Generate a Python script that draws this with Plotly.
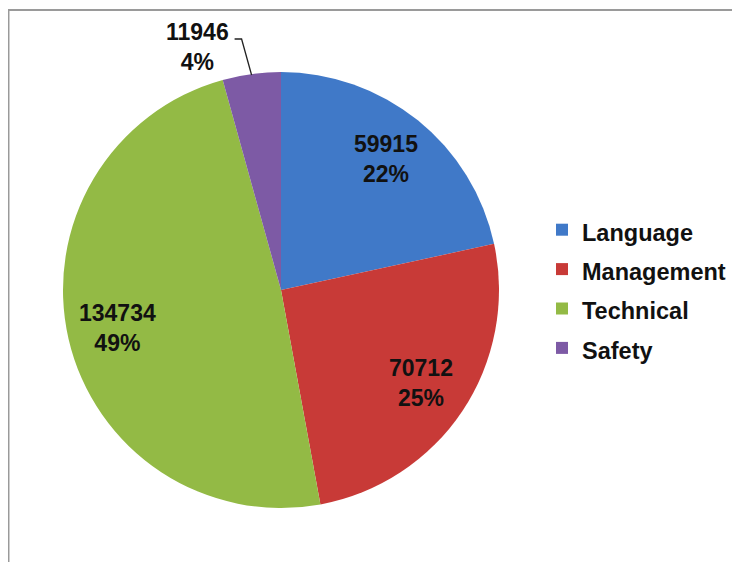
import math
import plotly.graph_objects as go

categories = ["Language", "Management", "Technical", "Safety"]
values = [59915, 70712, 134734, 11946]
colors = ["#4079c8", "#c83a37", "#93ba45", "#7d5aa5"]

W, H = 740, 562
OFF = 8  # page body margin
CX, CY, R = 281 - OFF, 290 - OFF, 218  # pie centre / radius in pixels

dom_x = [(CX - R) / W, (CX + R) / W]
dom_y = [1 - (CY + R) / H, 1 - (CY - R) / H]


def to_paper(px, py):
    return px / W, 1 - py / H


fig = go.Figure(go.Pie(
    labels=[f'<span style="font-size:23.5px"><b>{c}</b></span>' for c in categories],
    values=values,
    marker=dict(colors=colors, line=dict(width=0)),
    sort=False,
    direction="clockwise",
    rotation=0,
    textinfo="none",
    hoverinfo="label+value+percent",
    domain=dict(x=dom_x, y=dom_y),
))

total = sum(values)
annotations = []
shapes = []
cum = 0
lab_font = dict(family="Liberation Sans, Arial", size=23, color="#111")
for c, v in zip(categories, values):
    frac = v / total
    mid = (cum + frac / 2) * 2 * math.pi
    cum += frac
    pct = f"{round(frac * 100)}%"
    txt = f"<b>{v}<br>{pct}</b>"
    if frac > 0.1:
        r = 0.77 * R
        x, y = to_paper(CX + r * math.sin(mid), CY - r * math.cos(mid))
        annotations.append(dict(
            x=x, y=y, xref="paper", yref="paper", xanchor="center", yanchor="middle",
            text=txt, showarrow=False, align="center", font=lab_font,
        ))
    else:
        ex = CX + R * math.sin(mid)
        ey = CY - R * math.cos(mid) + 1
        x, y = to_paper(ex - 54, ey - 28)
        annotations.append(dict(
            x=x, y=y, xref="paper", yref="paper", xanchor="center", yanchor="middle",
            text=txt, showarrow=False, align="center", font=lab_font,
        ))
        p0 = to_paper(ex, ey)
        p1 = to_paper(ex - 10, ey - 36)
        p2 = to_paper(ex - 17, ey - 36)
        shapes.append(dict(
            type="path", xref="paper", yref="paper",
            path=f"M{p0[0]},{p0[1]} L{p1[0]},{p1[1]} L{p2[0]},{p2[1]}",
            line=dict(color="#222", width=1.3),
        ))

shapes.insert(0, dict(
    type="rect", xref="paper", yref="paper",
    x0=(7 - OFF) / W + 0.002, x1=1.02, y0=-0.02, y1=1 - (10 - OFF) / H,
    line=dict(color="#9a9a9a", width=2), layer="below",
))

fig.update_layout(
    width=W, height=H,
    margin=dict(l=0, r=0, t=0, b=0),
    paper_bgcolor="white",
    plot_bgcolor="white",
    showlegend=True,
    legend=dict(
        x=(540 - OFF + 2) / W, y=1 - (210 - OFF - 5) / H, xanchor="left", yanchor="top",
        font=dict(family="Liberation Sans, Arial", size=28, color="#111"),
        bgcolor="rgba(0,0,0,0)",
    ),
    annotations=annotations,
    shapes=shapes,
)

fig.write_html("out.html")
